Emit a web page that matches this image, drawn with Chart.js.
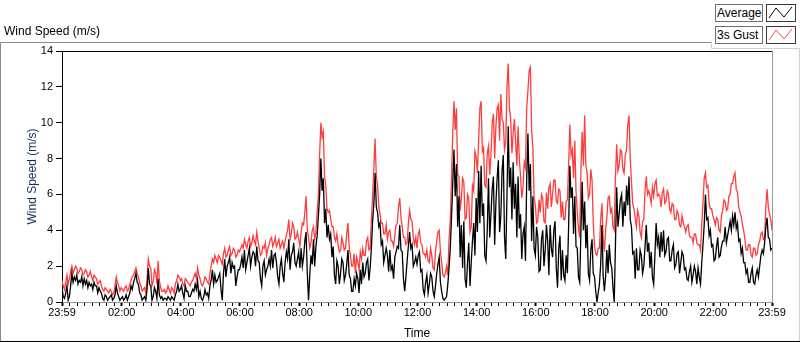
<!DOCTYPE html>
<html>
<head>
<meta charset="utf-8">
<script src="https://cdn.jsdelivr.net/npm/chart.js@4/dist/chart.umd.min.js"></script>
<style>
  html, body { margin: 0; padding: 0; background: #fff; }
  #wrap { position: relative; width: 800px; height: 342px; overflow: hidden; }
  canvas { position: absolute; left: 0; top: 0; }
  .lgt { position: absolute; box-sizing: border-box; height: 18px; border: 1px solid #6f6f6f;
         font: 12px "Liberation Sans", Arial, sans-serif; color: #000; line-height: 16px; padding-left: 1px; background: #fff; }
  .lgs { position: absolute; box-sizing: border-box; width: 30px; height: 18px; border: 1px solid #3a3a3a; background: #fff; }
  .lgs svg { position: absolute; left: 0; top: 0; }
</style>
</head>
<body>
<div id="wrap">
  <canvas id="c" width="800" height="342"></canvas>
  <div class="lgt" style="left:715px;top:4px;width:48px;">Average</div>
  <div class="lgs" style="left:766px;top:4px;">
    <svg width="28" height="16"><polyline points="2,13 9,3 17,12 25,2" fill="none" stroke="#000" stroke-width="1"/></svg>
  </div>
  <div class="lgt" style="left:715px;top:26px;width:48px;">3s Gust</div>
  <div class="lgs" style="left:766px;top:26px;">
    <svg width="28" height="16"><polyline points="2,13 9,3 17,12 25,2" fill="none" stroke="#ff4a4a" stroke-width="1"/></svg>
  </div>
</div>
<script>
// ---- data: samples every 2.5 minutes, starting at 23:59 of the previous day ----
const stepMinutes = 2.5;

const average = [
  0.8,0.3,0.2,0.5,0.9,0.1,0.3,0.9,1.6,1.1,1.4,1.2,1.5,1.0,1.2,1.1,1.4,0.9,1.3,1.0,1.2,0.8,1.1,0.9,
  1.0,0.7,1.1,0.9,0.9,0.5,0.8,0.6,0.5,0.2,0.1,0.4,0.3,0.1,0.2,0.3,0.4,0.1,0.2,0.4,0.9,0.5,0.3,0.1,
  0.2,0.3,0.1,0.2,0.4,0.1,0.3,0.5,0.9,0.7,1.1,1.3,1.6,1.1,1.0,0.5,0.4,0.1,0.2,0.3,0.1,0.7,1.9,1.0,
  0.9,0.1,0.3,0.8,0.6,0.2,1.3,0.4,0.2,0.3,0.1,0.2,0.2,0.1,0.3,0.2,0.1,0.3,0.2,0.1,0.4,0.6,1.0,0.6,
  0.7,0.9,0.5,0.2,0.9,0.6,0.6,0.3,0.3,0.5,0.7,0.6,1.0,0.7,1.2,0.3,0.6,0.2,0.1,0.3,0.7,0.4,0.5,0.2,
  0.9,1.2,1.8,1.0,1.5,1.1,1.2,1.4,1.6,0.7,0.1,1.6,2.4,1.4,2.0,2.2,2.5,1.6,2.2,1.9,2.0,0.9,1.4,1.8,
  1.8,2.1,2.5,1.9,2.9,1.8,2.2,2.6,3.0,2.0,2.5,2.8,2.7,2.0,3.1,2.3,2.2,1.3,0.9,2.0,2.3,1.5,1.8,2.0,
  2.4,2.0,2.9,1.9,2.6,2.7,2.2,1.4,1.0,2.0,2.4,1.6,1.1,2.2,2.8,2.4,3.5,1.8,2.6,2.8,3.3,2.2,2.0,2.4,
  2.8,1.9,3.0,2.0,2.5,3.4,3.9,1.6,0.1,1.5,2.6,2.1,3.5,2.0,3.1,3.7,4.8,6.0,8.0,6.2,6.9,4.4,5.2,3.6,
  4.3,3.5,3.8,2.5,3.1,1.5,1.0,2.3,2.0,1.0,1.6,2.4,2.2,1.2,1.5,2.1,2.9,1.5,1.3,0.6,0.6,1.3,0.9,1.6,
  1.3,0.5,1.8,1.0,2.2,1.4,1.6,2.2,2.4,1.2,1.9,3.0,4.5,5.5,7.2,5.3,5.0,4.2,4.4,3.2,3.4,2.2,2.6,3.0,
  2.6,1.7,2.9,1.8,2.0,1.3,2.5,2.8,3.1,3.0,4.3,2.9,2.8,1.3,0.6,1.4,2.3,3.1,3.9,3.0,3.2,2.0,2.2,2.5,
  2.1,2.6,2.8,1.7,1.8,0.7,0.4,1.1,1.5,0.5,1.0,1.6,1.4,0.6,0.3,0.9,1.6,2.1,2.5,1.1,0.6,0.2,0.1,0.2,
  0.3,1.0,1.9,3.0,4.7,6.6,8.5,5.9,7.7,4.2,5.9,2.5,4.3,1.9,4.5,1.3,0.8,2.2,3.3,0.9,2.2,3.4,4.4,2.6,
  5.8,3.9,7.3,4.4,7.6,4.8,5.5,2.6,2.3,4.0,6.9,3.6,4.9,6.3,7.0,3.2,5.5,6.9,7.9,3.9,4.8,7.3,8.2,3.6,
  2.4,6.0,9.8,6.4,7.5,4.6,7.8,5.2,6.6,3.6,7.0,4.1,4.9,2.4,3.8,4.2,2.3,6.8,9.4,6.2,7.7,3.4,5.9,3.0,
  2.6,4.2,3.6,1.7,1.8,3.5,4.0,2.0,2.9,4.3,3.4,1.5,4.3,3.0,2.5,4.0,4.5,1.9,0.8,3.0,3.7,1.2,2.9,1.5,
  1.2,2.6,1.6,4.2,7.6,5.8,6.4,3.8,5.9,3.1,3.0,1.4,1.1,4.0,6.7,4.0,5.6,3.0,4.3,1.6,1.2,2.9,3.5,1.6,
  1.4,0.6,0.0,0.5,1.0,2.1,4.3,1.5,0.6,1.4,2.9,1.6,3.2,2.2,1.9,0.8,0.0,3.2,6.4,4.2,4.9,5.7,6.0,4.2,
  5.6,4.8,6.5,5.4,7.0,4.6,4.2,2.7,2.8,1.3,3.0,1.8,1.8,2.9,2.6,1.6,2.0,3.1,4.3,2.8,3.3,1.9,2.8,1.4,
  1.0,2.6,4.4,3.2,3.6,2.5,3.9,2.8,4.0,2.6,2.8,3.5,3.6,2.3,2.3,2.9,3.2,1.9,2.1,2.7,2.8,1.6,2.2,2.8,
  2.6,1.8,1.9,1.3,1.2,1.7,2.0,1.1,1.5,2.0,1.7,1.0,1.9,1.4,1.0,2.2,3.2,4.3,6.0,4.6,4.7,3.7,4.0,3.1,
  3.2,2.3,2.4,3.1,3.6,2.5,2.6,3.1,3.4,3.4,4.2,3.3,3.7,4.1,4.5,4.0,4.8,4.3,5.0,4.1,4.4,3.4,3.5,2.7,
  3.0,2.2,2.2,1.6,1.8,1.1,1.1,1.6,1.9,1.1,1.0,1.5,1.8,1.4,2.0,2.6,2.9,2.7,3.3,4.2,4.7,3.6,3.5,2.9,3.0
];

const gust = [
  1.2,0.9,0.7,1.1,1.5,1.0,1.3,1.7,2.0,1.6,1.8,2.0,1.9,1.6,1.7,1.9,1.8,1.5,1.6,1.8,1.7,1.4,1.5,1.7,
  1.4,1.2,1.5,1.4,1.3,1.0,1.1,1.2,0.9,0.7,0.6,0.8,0.7,0.6,0.5,0.7,0.6,0.4,0.5,0.9,1.4,1.1,0.9,0.6,
  0.8,0.7,0.6,0.8,0.9,0.6,0.7,1.0,1.2,1.4,1.5,1.7,1.9,1.6,1.4,1.1,0.9,0.6,0.7,0.8,0.5,1.3,2.4,2.0,
  1.9,0.9,1.1,1.8,1.6,1.0,2.3,1.2,0.8,0.6,0.6,0.7,0.5,0.6,0.9,0.7,0.5,0.8,0.7,0.5,1.0,1.2,1.5,1.4,
  1.2,1.3,1.0,0.9,1.3,1.2,1.1,1.0,0.9,1.1,1.2,1.4,1.6,1.3,1.9,1.5,1.3,1.0,0.9,1.1,1.4,1.3,1.1,1.0,
  1.6,2.0,2.4,2.2,2.6,2.4,2.2,2.6,2.5,2.3,2.1,2.7,3.0,2.5,2.6,2.9,3.1,2.6,2.7,3.0,2.9,2.5,2.6,2.9,
  2.8,3.0,3.2,3.0,3.5,3.2,3.0,3.4,3.6,3.1,3.3,3.7,3.4,3.2,3.9,3.4,3.0,2.6,2.7,3.1,3.0,3.3,2.6,3.0,
  3.2,3.5,3.6,3.1,3.3,3.6,3.1,3.3,3.5,3.0,3.2,3.4,3.0,3.4,3.7,4.0,4.6,3.5,3.8,4.4,4.2,3.5,3.6,3.9,
  3.5,3.1,3.9,4.4,4.3,5.0,5.9,4.0,3.6,3.0,3.3,4.0,4.2,3.5,3.9,5.0,6.0,8.2,10.0,9.2,9.5,7.0,6.5,5.2,
  5.0,5.1,4.6,4.2,4.2,3.6,3.4,3.8,3.2,2.8,2.9,3.6,3.3,2.9,3.0,3.8,4.4,3.0,2.6,2.0,2.0,2.7,1.6,2.5,
  2.2,1.8,2.8,2.4,3.0,2.6,2.6,3.4,3.6,2.9,3.0,4.6,5.9,7.5,9.1,7.0,6.5,5.3,4.9,4.4,4.4,3.8,3.8,4.3,
  3.5,3.9,4.0,3.4,3.4,3.1,3.7,4.3,4.4,5.3,5.8,4.7,4.2,3.6,3.6,3.2,3.3,4.4,5.1,4.6,4.5,3.6,3.2,3.6,
  3.0,3.8,4.0,3.3,3.2,2.7,2.7,2.5,2.9,2.3,2.2,3.0,2.6,1.9,1.8,2.8,3.4,3.9,4.0,2.8,2.2,1.5,1.4,1.6,
  2.0,1.5,3.5,4.6,6.8,9.4,11.2,9.6,10.8,7.1,7.0,5.1,5.8,6.9,6.7,4.6,4.7,6.0,5.8,3.9,4.2,6.5,6.2,8.4,
  8.1,7.2,9.0,10.8,11.2,8.4,8.6,6.5,6.4,8.3,8.7,7.1,8.2,10.0,10.5,8.0,9.8,10.8,11.0,9.0,11.6,10.2,10.0,8.5,
  8.9,12.0,13.3,10.8,10.2,8.3,9.4,10.2,9.0,7.6,9.8,8.0,7.0,5.8,6.4,7.8,7.5,10.8,11.8,12.9,13.1,9.6,8.6,5.8,
  5.4,4.4,4.5,5.7,5.0,6.0,5.8,4.5,4.4,6.1,5.2,6.4,6.6,5.3,6.0,6.8,6.8,5.6,5.5,6.3,6.2,4.7,5.6,4.6,
  4.6,5.6,5.7,7.6,9.9,8.2,8.5,6.9,9.0,6.2,5.0,4.1,3.6,7.4,9.5,7.6,10.4,7.6,7.2,5.8,6.0,7.4,6.8,4.4,
  3.1,2.7,2.6,3.0,3.0,4.6,5.5,3.6,2.8,4.0,4.7,5.8,5.9,5.0,5.2,4.2,4.0,7.0,8.8,7.3,7.6,8.5,8.4,7.4,
  7.2,8.2,8.5,9.9,10.4,8.0,6.7,5.5,5.2,4.7,4.2,5.1,4.8,3.9,3.6,4.5,4.6,6.2,7.0,6.0,6.2,5.9,5.5,6.4,
  5.9,6.6,6.8,5.9,6.0,5.9,5.3,6.1,6.3,5.5,5.6,6.2,6.0,5.2,5.0,5.5,5.4,4.6,4.6,5.1,4.9,4.3,4.2,4.8,
  4.4,4.2,3.9,4.2,4.3,3.7,3.6,3.6,3.3,3.8,3.8,3.3,3.2,3.2,2.9,4.3,5.5,6.9,7.2,6.4,6.5,5.5,5.2,5.2,
  4.8,4.6,4.3,4.7,4.6,4.0,3.9,4.8,5.1,5.7,5.6,5.1,5.2,5.9,6.0,6.6,6.6,7.0,7.2,6.3,6.1,5.3,5.0,4.8,
  4.3,4.0,3.5,2.9,2.9,3.2,3.2,2.6,2.5,3.0,3.0,2.6,2.7,3.2,3.4,3.8,3.9,3.5,3.6,5.3,6.3,5.3,4.9,4.6,4.0
];

// x tick labels (minutes after 23:59)
const tickMinutes = [0, 121, 241, 361, 481, 601, 721, 841, 961, 1081, 1201, 1321, 1440];
const tickLabels  = ['23:59','02:00','04:00','06:00','08:00','10:00','12:00','14:00','16:00','18:00','20:00','22:00','23:59'];
const minorTickMinutes = 15;
const yTicks = [0, 2, 4, 6, 8, 10, 12, 14];

if (average.length !== gust.length) throw new Error('length mismatch ' + average.length + ' vs ' + gust.length);

const toXY = arr => arr.map((v, i) => ({ x: i * stepMinutes, y: v }));

const FONT = '"Liberation Sans", Arial, sans-serif';

const framePlugin = {
  id: 'frame',
  beforeDraw(chart) {
    const ctx = chart.ctx;
    ctx.save();
    ctx.lineWidth = 1;
    ctx.strokeStyle = '#8a8a8a';
    ctx.beginPath();
    ctx.moveTo(0.5, 342);
    ctx.lineTo(0.5, 42.5);
    ctx.lineTo(711.5, 42.5);
    ctx.stroke();
    ctx.strokeStyle = '#d0d0d0';
    ctx.beginPath();
    ctx.moveTo(711.5, 42.5);
    ctx.lineTo(711.5, 48.5);
    ctx.lineTo(799.5, 48.5);
    ctx.lineTo(799.5, 342);
    ctx.stroke();
    ctx.strokeStyle = '#000';
    ctx.beginPath();
    ctx.moveTo(0, 341.5);
    ctx.lineTo(800, 341.5);
    ctx.stroke();
    ctx.restore();
  },
  afterDraw(chart) {
    const {ctx, chartArea: a} = chart;
    ctx.save();
    ctx.lineWidth = 1;
    ctx.strokeStyle = '#000';
    ctx.beginPath();
    ctx.moveTo(a.left, Math.round(a.top) + 0.5);
    ctx.lineTo(a.right, Math.round(a.top) + 0.5);
    ctx.stroke();
    ctx.strokeStyle = '#9a9a9a';
    ctx.beginPath();
    ctx.moveTo(Math.round(a.right) + 0.5, a.top);
    ctx.lineTo(Math.round(a.right) + 0.5, a.bottom);
    ctx.stroke();
    ctx.restore();
  }
};

const isMajor = v => tickMinutes.indexOf(v) >= 0;

new Chart(document.getElementById('c'), {
  type: 'line',
  data: {
    datasets: [
      { label: 'Average', data: toXY(average), borderColor: '#000000', borderWidth: 1.3, pointRadius: 0, tension: 0 },
      { label: '3s Gust', data: toXY(gust), borderColor: '#ff3c3c', borderWidth: 1.3, pointRadius: 0, tension: 0 }
    ]
  },
  options: {
    responsive: false,
    animation: false,
    devicePixelRatio: 1,
    layout: { padding: { left: 4, right: 28, top: 0, bottom: 0 } },
    plugins: {
      legend: { display: false },
      tooltip: { enabled: false },
      title: {
        display: true, text: 'Wind Speed (m/s)', align: 'start', color: '#000',
        font: { family: FONT, size: 12, weight: 'normal' },
        padding: { top: 24, bottom: 12.6 }
      }
    },
    scales: {
      x: {
        type: 'linear', min: 0, max: 1440,
        afterFit: s => { s.height = 40; },
        afterBuildTicks: s => {
          const t = [{ value: 0 }];
          for (let m = 1 + minorTickMinutes; m < 1440; m += minorTickMinutes) t.push({ value: m });
          t.push({ value: 1440 });
          s.ticks = t;
        },
        ticks: {
          autoSkip: false, maxRotation: 0, minRotation: 0, padding: 0, color: '#000',
          font: { family: FONT, size: 11 },
          callback: v => { const i = tickMinutes.indexOf(v); return i >= 0 ? tickLabels[i] : ''; }
        },
        grid: {
          drawOnChartArea: false, drawTicks: true, tickLength: 4,
          tickColor: '#000',
          tickWidth: c => (c.tick && isMajor(c.tick.value)) ? 2 : 1
        },
        border: { display: true, color: '#8f8f8f', width: 1 },
        title: { display: true, text: 'Time', color: '#000', font: { family: FONT, size: 12 }, padding: { top: 0, bottom: 1 } }
      },
      y: {
        min: 0, max: 14,
        afterFit: s => { s.width = 58; },
        afterBuildTicks: s => { s.ticks = yTicks.map(v => ({ value: v })); },
        ticks: { color: '#000', padding: 3, font: { family: FONT, size: 11 } },
        grid: { drawOnChartArea: false, drawTicks: true, tickLength: 6, tickColor: '#000', tickWidth: 1 },
        border: { display: true, color: '#000', width: 1 },
        title: { display: true, text: 'Wind Speed (m/s)', color: '#14305a', font: { family: FONT, size: 12 }, padding: { top: 21, bottom: 0 } }
      }
    }
  },
  plugins: [framePlugin]
});
</script>
</body>
</html>
